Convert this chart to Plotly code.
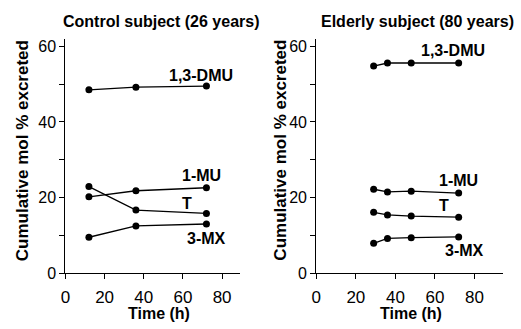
import plotly.graph_objects as go

# Control subject (26 years)
ctrl_time = [12, 36, 72]
ctrl_dmu = [48.5, 49.2, 49.5]
ctrl_mu = [20.2, 21.8, 22.6]
ctrl_t = [22.9, 16.7, 15.8]
ctrl_mx = [9.5, 12.5, 13.0]

# Elderly subject (80 years)
old_time = [29, 36, 48, 72]
old_dmu = [54.8, 55.6, 55.6, 55.6]
old_mu = [22.2, 21.5, 21.7, 21.2]
old_t = [16.1, 15.4, 15.1, 14.8]
old_mx = [7.9, 9.2, 9.4, 9.6]

series_names = ["1,3-DMU", "1-MU", "T", "3-MX"]
ctrl_label_pos = [(69, 52.2), (69.6, 25.8), (62.3, 18.4), (72.2, 9.2)]
old_label_pos = [(69.3, 58.9), (71.9, 24.5), (64.4, 18.0), (75.1, 6.1)]

y_ticks = [0, 10, 20, 30, 40, 50, 60]
y_ticktext = ["0", "", "20", "", "40", "", "60"]
x_ticks = [0, 20, 40, 60, 80]

FONT = "Liberation Sans, Arial, sans-serif"
W, H = 521, 329

fig = go.Figure()

line_style = dict(color="black", width=1.3)
marker_style = dict(color="black", size=7)

for ys in [ctrl_dmu, ctrl_mu, ctrl_t, ctrl_mx]:
    fig.add_trace(go.Scatter(x=ctrl_time, y=ys, mode="lines+markers", line=line_style,
                             marker=marker_style, xaxis="x", yaxis="y", showlegend=False))
for ys in [old_dmu, old_mu, old_t, old_mx]:
    fig.add_trace(go.Scatter(x=old_time, y=ys, mode="lines+markers", line=line_style,
                             marker=marker_style, xaxis="x2", yaxis="y2", showlegend=False))

annotations = []
for name, (x, y) in zip(series_names, ctrl_label_pos):
    annotations.append(dict(x=x, y=y, xref="x", yref="y", text=f"<b>{name}</b>", showarrow=False,
                            xanchor="center", yanchor="middle",
                            font=dict(family=FONT, size=16, color="black")))
for name, (x, y) in zip(series_names, old_label_pos):
    annotations.append(dict(x=x, y=y, xref="x2", yref="y2", text=f"<b>{name}</b>", showarrow=False,
                            xanchor="center", yanchor="middle",
                            font=dict(family=FONT, size=16, color="black")))

def px_x(p):
    return p / W

def px_y(p):
    return 1 - p / H

# Panel titles
annotations.append(dict(x=px_x(158.5), y=px_y(21), xref="paper", yref="paper",
                        xanchor="center", yanchor="middle",
                        text="<b>Control subject (26 years)</b>", showarrow=False,
                        font=dict(family=FONT, size=16, color="black")))
annotations.append(dict(x=px_x(416.5), y=px_y(21), xref="paper", yref="paper",
                        xanchor="center", yanchor="middle",
                        text="<b>Elderly subject (80 years)</b>", showarrow=False,
                        font=dict(family=FONT, size=16, color="black")))
# Axis titles
for cx in (17, 278):
    annotations.append(dict(x=px_x(cx), y=px_y(154), xref="paper", yref="paper",
                            xanchor="center", yanchor="middle",
                            text="<b>Cumulative mol % excreted</b>", textangle=-90, showarrow=False,
                            font=dict(family=FONT, size=17, color="black")))
for cx in (155, 410):
    annotations.append(dict(x=px_x(cx), y=px_y(322), xref="paper", yref="paper",
                            xanchor="center", yanchor="middle",
                            text="<b>Time (h)</b>", showarrow=False,
                            font=dict(family=FONT, size=16, color="black")))

y_dom = [px_y(280.7), px_y(39)]
common_x = dict(showgrid=False, zeroline=False, showline=True, linecolor="black", linewidth=1.3,
                ticks="outside", ticklen=5, tickcolor="black", tickwidth=1.3, ticklabelstandoff=3,
                tickvals=x_ticks, tickfont=dict(family=FONT, size=17, color="black"))
common_y = dict(showgrid=False, zeroline=False, showline=True, linecolor="black", linewidth=1.3,
                ticks="outside", ticklen=5, tickcolor="black", tickwidth=1.3,
                tickvals=y_ticks, ticktext=y_ticktext, range=[0, 62], domain=y_dom,
                tickfont=dict(family=FONT, size=16, color="black"))

fig.update_layout(
    width=W, height=H,
    margin=dict(l=0, r=0, t=0, b=0),
    paper_bgcolor="white", plot_bgcolor="white",
    xaxis=dict(common_x, domain=[px_x(61), px_x(237)], range=[0, 89], anchor="y"),
    yaxis=dict(common_y, anchor="x"),
    xaxis2=dict(common_x, domain=[px_x(314.3), px_x(503)], range=[0, 94.5], anchor="y2"),
    yaxis2=dict(common_y, anchor="x2"),
    annotations=annotations,
)

fig.write_html("out.html")
